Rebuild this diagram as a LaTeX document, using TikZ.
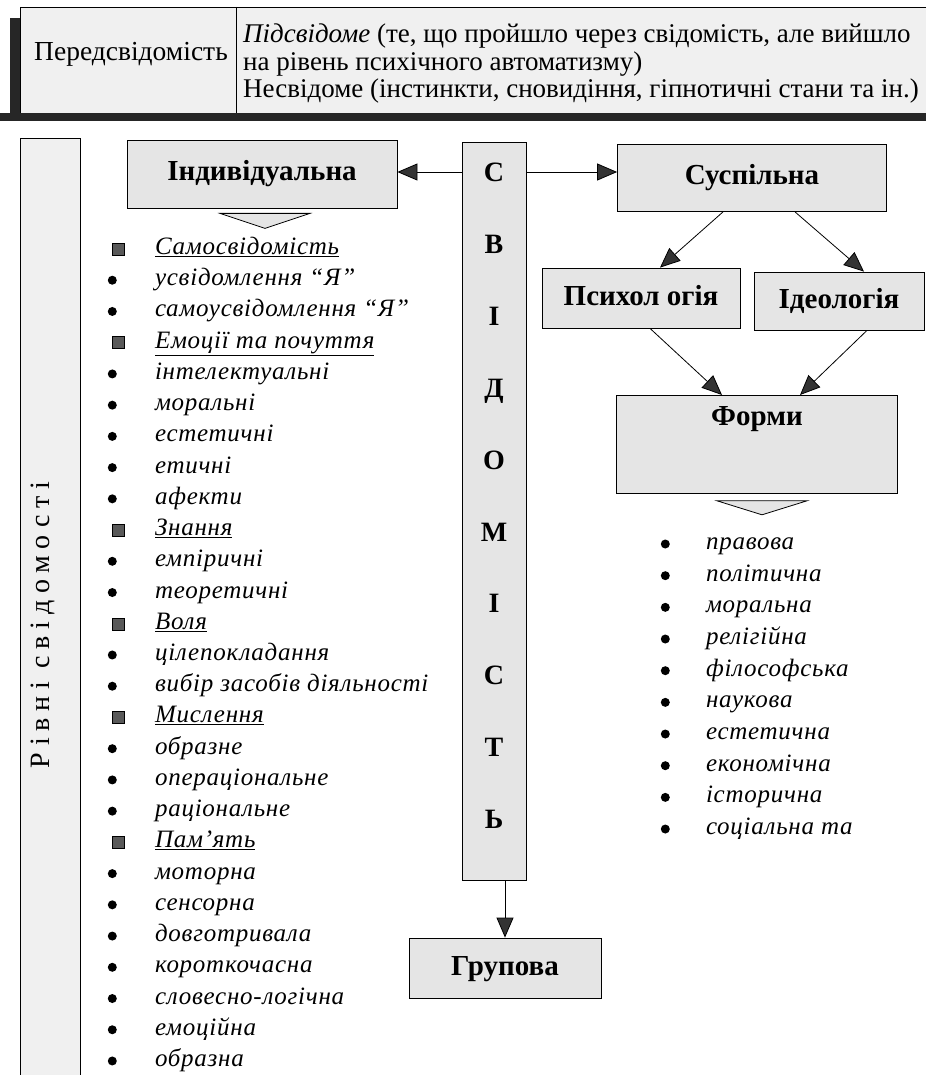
\documentclass[tikz,border=0pt]{standalone}
\usepackage{fontspec}
\setmainfont{Liberation Serif}
\usetikzlibrary{arrows.meta,positioning}
\tikzset{
main_box/.style={rectangle, draw, line width=0.8pt, fill=black!10, inner sep=0, text height=20pt, text depth=6pt, font=\fontsize{29pt}{33pt}\selectfont\bfseries},
col_letter/.style={inner sep=0, outer sep=0, minimum height=71.8pt, text height=20pt, text depth=0pt, font=\fontsize{28pt}{32pt}\selectfont\bfseries},
list_item/.style={rectangle, inner sep=0, outer sep=0, minimum height=31.23pt, text height=17pt, text depth=6pt, font=\fontsize{25pt}{29pt}\selectfont\itshape\addfontfeature{LetterSpace=3}},
dot_mark/.style={circle, fill=black, inner sep=0, minimum size=9pt},
square_mark/.style={rectangle, draw=black, fill=black!65, inner sep=0, minimum size=12pt},
dot_item/.style={list_item, label={[dot_mark, label distance=38pt]left:{}}},
head_item/.style={list_item, label={[square_mark, label distance=31pt]left:{}}},
form_item/.style={list_item, minimum height=31.67pt, label={[dot_mark, label distance=36pt]left:{}}},
link/.style={line width=0.8pt, -{Triangle[length=20pt, width=17pt, fill=black!80]}},
pointer/.style={draw, line width=0.8pt, fill=black!10}
}

\begin{document}
\begin{tikzpicture}[x=1pt, y=-1pt]
    \useasboundingbox (0,0) rectangle (926,1075);
    % top band
    \fill[black!6] (20,7) rectangle (926,113);
    \draw[line width=0.6pt] (926,7) -- (20,7) -- (20,113);
    \draw[line width=0.6pt] (236,7) -- (236,113);
    \fill[black!85] (0,113) rectangle (926,121);
    \fill[black!85] (10,18) rectangle (20,118);
    \node[font=\fontsize{27.5pt}{31pt}\selectfont] (pre_name) at (131,54) {Передсвідомість};
    \node[anchor=west, align=left, inner sep=0, font=\fontsize{27pt}{27.5pt}\selectfont] (pre_text) at (243,64) {\textit{Підсвідоме} (те, що пройшло через свідомість, але вийшло\\на рівень психічного автоматизму)\\Несвідоме (інстинкти, сновидіння, гіпнотичні стани та ін.)};

    % levels column
    \filldraw[fill=black!6, line width=0.8pt] (20,1075) -- (20,138) -- (80,138) -- (80,1075);
    \node[rotate=90, font=\fontsize{28pt}{32pt}\selectfont\addfontfeature{LetterSpace=24}] (levels) at (43,625) {Рівні свідомості};

    % consciousness column
    \node[main_box, minimum width=64pt, minimum height=738pt] (svid) at (494,511) {};
    \node[col_letter] (let_1) at (494,172) {С};
    \node[col_letter] (let_2) [below=0 of let_1] {В};
    \node[col_letter] (let_3) [below=0 of let_2] {І};
    \node[col_letter] (let_4) [below=0 of let_3] {Д};
    \node[col_letter] (let_5) [below=0 of let_4] {О};
    \node[col_letter] (let_6) [below=0 of let_5] {М};
    \node[col_letter] (let_7) [below=0 of let_6] {І};
    \node[col_letter] (let_8) [below=0 of let_7] {С};
    \node[col_letter] (let_9) [below=0 of let_8] {Т};
    \node[col_letter] (let_10) [below=0 of let_9] {Ь};

    % boxes
    \node[main_box, minimum width=270pt, minimum height=68pt] (indiv) at (262,174) {Індивідуальна};
    \node[main_box, minimum width=269pt, minimum height=67pt] (susp) at (752,178) {Суспільна};
    \node[main_box, minimum width=198pt, minimum height=60pt] (psych) at (641,298) {Психол огія};
    \node[main_box, minimum width=170pt, minimum height=58pt] (ideol) at (839,301) {Ідеологія};
    \node[main_box, minimum width=281pt, text height=30pt, text depth=68pt, anchor=north] (forms) at (757,395) {Форми};
    \node[main_box, minimum width=192pt, minimum height=60pt] (grup) at (505,968) {Групова};

    % arrows
    \draw[link] (svid.west |- let_1) -- (indiv.east |- let_1);
    \draw[link] (svid.east |- let_1) -- (susp.west |- let_1);
    \draw[link] (grup.north |- svid.south) -- (grup.north);
    \draw[link] ([xshift=-29pt]susp.south) -- ([xshift=19pt]psych.north);
    \draw[link] ([xshift=43pt]susp.south) -- ([xshift=25pt]ideol.north);
    \draw[link] ([xshift=9pt]psych.south) -- ([xshift=-35pt]forms.north);
    \draw[link] ([xshift=28pt]ideol.south) -- ([xshift=43pt]forms.north);
    \draw[pointer] ([xshift=-42pt,yshift=-5pt]indiv.south) -- ++(90,0) -- ++(-45,15) -- cycle;
    \draw[pointer] ([xshift=-40pt,yshift=-7pt]forms.south) -- ++(90,0) -- ++(-45,14) -- cycle;

    % individual list
    \node[head_item, anchor=west] (ind_1) at (155,249) {\underline{Самосвідомість}};
    \node[dot_item] (ind_2) [below=0 of ind_1.south west, anchor=north west] {усвідомлення “Я”};
    \node[dot_item] (ind_3) [below=0 of ind_2.south west, anchor=north west] {самоусвідомлення “Я”};
    \node[head_item] (ind_4) [below=0 of ind_3.south west, anchor=north west] {\underline{Емоції та почуття}};
    \node[dot_item] (ind_5) [below=0 of ind_4.south west, anchor=north west] {інтелектуальні};
    \node[dot_item] (ind_6) [below=0 of ind_5.south west, anchor=north west] {моральні};
    \node[dot_item] (ind_7) [below=0 of ind_6.south west, anchor=north west] {естетичні};
    \node[dot_item] (ind_8) [below=0 of ind_7.south west, anchor=north west] {етичні};
    \node[dot_item] (ind_9) [below=0 of ind_8.south west, anchor=north west] {афекти};
    \node[head_item] (ind_10) [below=0 of ind_9.south west, anchor=north west] {\underline{Знання}};
    \node[dot_item] (ind_11) [below=0 of ind_10.south west, anchor=north west] {емпіричні};
    \node[dot_item] (ind_12) [below=0 of ind_11.south west, anchor=north west] {теоретичні};
    \node[head_item] (ind_13) [below=0 of ind_12.south west, anchor=north west] {\underline{Воля}};
    \node[dot_item] (ind_14) [below=0 of ind_13.south west, anchor=north west] {цілепокладання};
    \node[dot_item] (ind_15) [below=0 of ind_14.south west, anchor=north west] {вибір засобів діяльності};
    \node[head_item] (ind_16) [below=0 of ind_15.south west, anchor=north west] {\underline{Мислення}};
    \node[dot_item] (ind_17) [below=0 of ind_16.south west, anchor=north west] {образне};
    \node[dot_item] (ind_18) [below=0 of ind_17.south west, anchor=north west] {операціональне};
    \node[dot_item] (ind_19) [below=0 of ind_18.south west, anchor=north west] {раціональне};
    \node[head_item] (ind_20) [below=0 of ind_19.south west, anchor=north west] {\underline{Пам'ять}};
    \node[dot_item] (ind_21) [below=0 of ind_20.south west, anchor=north west] {моторна};
    \node[dot_item] (ind_22) [below=0 of ind_21.south west, anchor=north west] {сенсорна};
    \node[dot_item] (ind_23) [below=0 of ind_22.south west, anchor=north west] {довготривала};
    \node[dot_item] (ind_24) [below=0 of ind_23.south west, anchor=north west] {короткочасна};
    \node[dot_item] (ind_25) [below=0 of ind_24.south west, anchor=north west] {словесно-логічна};
    \node[dot_item] (ind_26) [below=0 of ind_25.south west, anchor=north west] {емоційна};
    \node[dot_item] (ind_27) [below=0 of ind_26.south west, anchor=north west] {образна};

    % forms list
    \node[form_item, anchor=west] (form_1) at (706,544) {правова};
    \node[form_item] (form_2) [below=0 of form_1.south west, anchor=north west] {політична};
    \node[form_item] (form_3) [below=0 of form_2.south west, anchor=north west] {моральна};
    \node[form_item] (form_4) [below=0 of form_3.south west, anchor=north west] {релігійна};
    \node[form_item] (form_5) [below=0 of form_4.south west, anchor=north west] {філософська};
    \node[form_item] (form_6) [below=0 of form_5.south west, anchor=north west] {наукова};
    \node[form_item] (form_7) [below=0 of form_6.south west, anchor=north west] {естетична};
    \node[form_item] (form_8) [below=0 of form_7.south west, anchor=north west] {економічна};
    \node[form_item] (form_9) [below=0 of form_8.south west, anchor=north west] {історична};
    \node[form_item] (form_10) [below=0 of form_9.south west, anchor=north west] {соціальна та};
\end{tikzpicture}
\end{document}
